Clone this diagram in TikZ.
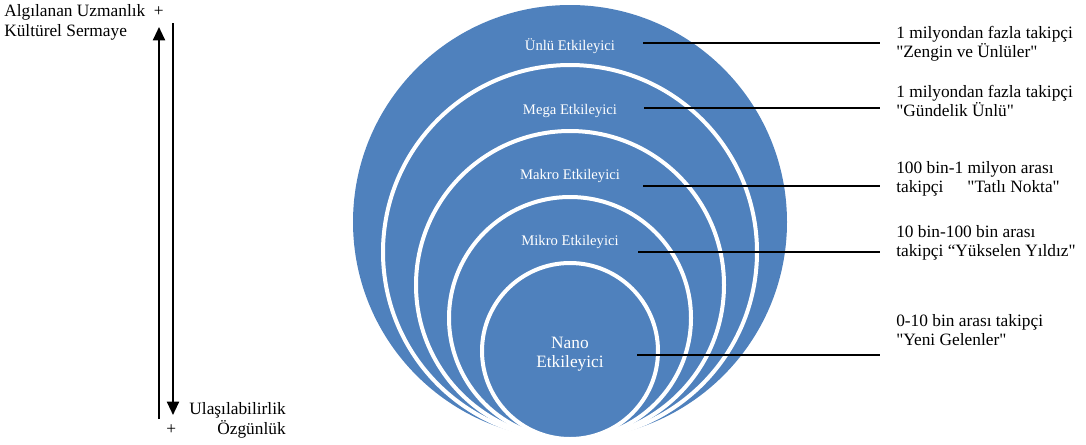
\documentclass[tikz,border=0pt]{standalone}
\usepackage{fontspec}
\setmainfont{Liberation Serif}[Ligatures=TeXOff]
\usetikzlibrary{arrows.meta}
\definecolor{ringblue}{RGB}{79,129,189}

\begin{document}
\begin{tikzpicture}[x=0.75pt,y=-0.75pt,
		ring/.style={circle,fill=ringblue,draw=white,line width=3pt,inner sep=0pt},
		ringlabel/.style={text=white,align=center,inner sep=0pt,font=\fontsize{11}{13}\selectfont},
		note/.style={anchor=west,align=left,inner xsep=12pt,inner ysep=0pt,font=\fontsize{13}{14.5}\selectfont},
		side/.style={align=left,inner sep=0pt,font=\fontsize{13}{14.5}\selectfont},
		link/.style={line width=1.1pt},
		axis/.style={line width=1.5pt,-{Triangle[width=9pt,length=10pt]}}]
		\useasboundingbox (0,0) rectangle (1086,444);
		\draw
			(570,222) node [ring,draw=none,minimum size=325.5pt] (unlu) {}
			(570,252) node [ring,minimum size=280.5pt] (mega) {}
			(570,285) node [ring,minimum size=231pt] (makro) {}
			(570,318) node [ring,minimum size=181.5pt] (mikro) {}
			(570,351) node [ring,minimum size=132pt] (nano) {}
			;
		\draw
			(570,46) node [ringlabel] (lunlu) {Ünlü Etkileyici}
			(570,111) node [ringlabel] (lmega) {Mega Etkileyici}
			(570,176) node [ringlabel] (lmakro) {Makro Etkileyici}
			(570,242) node [ringlabel] (lmikro) {Mikro Etkileyici}
			(570,354) node [ringlabel,font=\fontsize{13}{14}\selectfont] (lnano) {Nano\\Etkileyici}
			;
		\draw
			(880,44) node [note] (tunlu) {1 milyondan fazla takipçi\\"Zengin ve Ünlüler"}
			(880,101) node [note] (tmega) {1 milyondan fazla takipçi\\"Gündelik Ünlü"}
			(880,179) node [note] (tmakro) {100 bin-1 milyon arası\\takipçi\hspace{18pt}"Tatlı Nokta"}
			(880,242.5) node [note] (tmikro) {10 bin-100 bin arası\\takipçi “Yükselen Yıldız"}
			(880,330) node [note] (tnano) {0-10 bin arası takipçi\\"Yeni Gelenler"}
			;
		\draw
			(4,22.5) node [side,anchor=west] (expert) {Algılanan Uzmanlık~~+\\Kültürel Sermaye}
			(286,420.5) node [side,anchor=east,align=right] (reach) {Ulaşılabilirlik\\+\hspace{31pt}Özgünlük}
			;
		\coordinate (sunlu) at (643,43);
		\coordinate (smega) at (644,108);
		\coordinate (smakro) at (643,186);
		\coordinate (smikro) at (638,252);
		\coordinate (snano) at (637,355);
		\draw[link]
			(sunlu) edge (sunlu -| tunlu.west)
			(smega) edge (smega -| tmega.west)
			(smakro) edge (smakro -| tmakro.west)
			(smikro) edge (smikro -| tmikro.west)
			(snano) edge (snano -| tnano.west)
			;
		\coordinate (upfoot) at (159,419);
		\coordinate (uptip) at (159,27);
		\coordinate (downfoot) at (173,23);
		\coordinate (downtip) at (173,415);
		\draw[axis] (upfoot) -- (uptip);
		\draw[axis] (downfoot) -- (downtip);
	\end{tikzpicture}
\end{document}
